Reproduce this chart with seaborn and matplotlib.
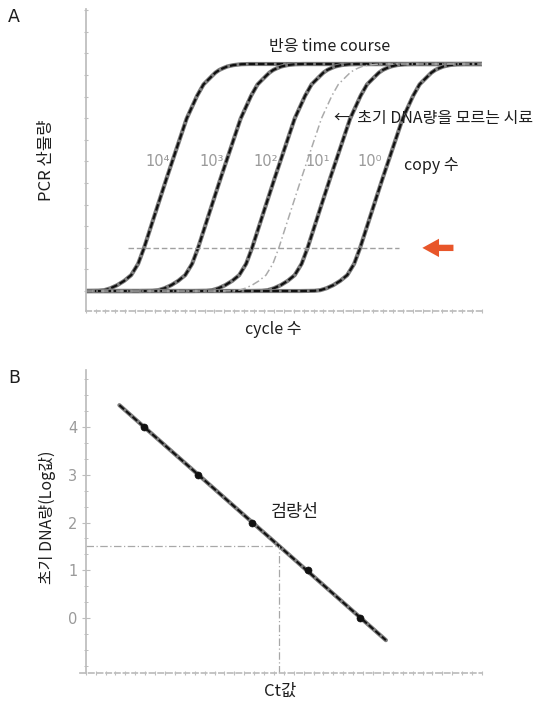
import numpy as np
import pandas as pd
import matplotlib
matplotlib.use("Agg")
import matplotlib.pyplot as plt
from matplotlib.ticker import MultipleLocator
import seaborn as sns

sns.set_theme(style="white")
plt.rcParams["font.family"] = ["Noto Sans CJK KR", "DejaVu Sans"]

# ---------------- data ----------------
ct_standards = [5.9, 11.35, 16.8, 22.4, 27.7]      # threshold cycles of standards
log_copies = [4, 3, 2, 1, 0]                        # log initial DNA amount
copy_labels = ["10⁴", "10³", "10²", "10¹", "10⁰"]
ct_unknown = 19.5
log_unknown = 1.5
threshold = 0.19
threshold_span = [4.24, 31.6]
arrow_span = [37.4, 33.7]
# amplification curve shape (offset from Ct, relative height)
profile_offset = [-6.0, -4.6, -4.0, -3.4, -2.7, -2.0, -1.3, -0.6, 0.0, 1.3, 2.3, 3.3,
                  4.3, 5.35, 6.0, 6.8, 7.2, 7.6, 8.0, 8.4, 9.0, 9.8, 10.6]
profile_height = [0.0, 0.001, 0.004, 0.012, 0.026, 0.045, 0.07, 0.12, 0.19, 0.366, 0.5,
                  0.63, 0.76, 0.86, 0.91, 0.945, 0.962, 0.974, 0.982, 0.989, 0.995,
                  0.999, 1.0]
cycle_max = 40
fit_span = [3.4, 30.3]

W, H = 547, 703
fig = plt.figure(figsize=(W / 100, H / 100), dpi=100)


def fx(x):
    return x / W


def fy(y):
    return 1 - y / H


def curve(ct):
    xs = [0] + [ct + o for o in profile_offset] + [cycle_max]
    ys = [0] + profile_height + [1.0]
    return pd.DataFrame({"cycle": xs, "amount": ys})


def line(ax, x, y, **kw):
    sns.lineplot(x=list(x), y=list(y), ax=ax, sort=False, estimator=None, **kw)
    return ax.lines[-1]


spine_col = "#bdbdbd"
txt_col = "#1e1e1e"

# ---------------- panel A ----------------
axA = fig.add_axes([fx(85.6), 1 - 311 / H, (482 - 85.6) / W, (311 - 8.7) / H])
axA.set_xlim(0, cycle_max)
axA.set_ylim(-0.088, 1.2436)

for ct in ct_standards:
    d = curve(ct)
    line(axA, d["cycle"], d["amount"], color="#7d7d7d", lw=3.0)
    ln = line(axA, d["cycle"], d["amount"], color="#111111", lw=1.6)
    ln.set_dashes((3, 1.2))

du = curve(ct_unknown)
ln = line(axA, du["cycle"], du["amount"], color="#ababab", lw=1.1)
ln.set_dashes((5, 2, 1, 2))

ln = line(axA, threshold_span, [threshold, threshold], color="#a0a0a0", lw=1.0)
ln.set_dashes((4, 2))

axA.annotate("", xy=(arrow_span[1], threshold), xytext=(arrow_span[0], threshold),
             arrowprops=dict(arrowstyle="simple,head_length=1.0,head_width=1.1,tail_width=0.38",
                             color="#e8562a", lw=0))

for s in ["top", "right"]:
    axA.spines[s].set_visible(False)
axA.spines["left"].set_color(spine_col)
axA.spines["bottom"].set_color(spine_col)
axA.spines["bottom"].set_linestyle((0, (3, 2)))
axA.set_yticks(np.arange(0, 1.24, 0.0952))
axA.set_xticks(np.arange(0, cycle_max + 0.1, 1))
axA.tick_params(axis="both", length=3, width=0.8, color=spine_col, direction="inout",
                labelleft=False, labelbottom=False, left=True, bottom=True)
axA.set_xlabel("")
axA.set_ylabel("")

label_x = [158, 212, 266, 318, 370]
for lx, lab in zip(label_x, copy_labels):
    fig.text(fx(lx), fy(162), lab, color="#9a9a9a", fontsize=10.5, ha="center", va="center",
             family=["DejaVu Sans"])
fig.text(fx(404), fy(166), "copy 수", fontsize=11.5, ha="left", va="center", color=txt_col)
fig.text(fx(330), fy(47), "반응 time course", fontsize=11.5, ha="center", va="center",
         color=txt_col)
fig.text(fx(334), fy(118), "←  초기 DNA량을 모르는 시료", fontsize=11.5, ha="left",
         va="center", color=txt_col)
fig.text(fx(273), fy(329), "cycle 수", fontsize=11.5, ha="center", va="center", color=txt_col)
fig.text(fx(47), fy(160), "PCR 산물량", fontsize=12, ha="center", va="center", rotation=90,
         color=txt_col)
fig.text(fx(14), fy(17), "A", fontsize=12.5, ha="center", va="center", color=txt_col,
         family=["DejaVu Sans"])

# ---------------- panel B ----------------
axB = fig.add_axes([fx(80), 1 - 673 / H, (482 - 80) / W, (673 - 370) / H])
axB.set_xlim(-(85.7 - 80) / 9.9, cycle_max)
axB.set_ylim(-1.152, 5.194)
axB.spines["left"].set_position(("data", 0))

coef = np.polyfit(ct_standards, log_copies, 1)
fit_x = np.array(fit_span)
fit_y = np.polyval(coef, fit_x)
line(axB, fit_x, fit_y, color="#7d7d7d", lw=3.0)
ln = line(axB, fit_x, fit_y, color="#111111", lw=1.5)
ln.set_dashes((3, 1.2))
sns.scatterplot(x=ct_standards, y=log_copies, ax=axB, color="#111", s=26, edgecolor="#111",
                zorder=5)

ln = line(axB, [0, ct_unknown], [log_unknown, log_unknown], color="#a8a8a8", lw=0.9)
ln.set_dashes((6, 2, 1, 2))
ln = line(axB, [ct_unknown, ct_unknown], [-1.152, log_unknown], color="#a8a8a8", lw=0.9)
ln.set_dashes((6, 2, 1, 2))

for s in ["top", "right"]:
    axB.spines[s].set_visible(False)
axB.spines["left"].set_color(spine_col)
axB.spines["bottom"].set_color(spine_col)
axB.spines["bottom"].set_linestyle((0, (3, 2)))
axB.set_yticks(log_copies)
axB.set_yticklabels([str(v) for v in log_copies])
axB.yaxis.set_minor_locator(MultipleLocator(1 / 3))
axB.set_xticks(np.arange(0, cycle_max + 0.1, 1))
axB.tick_params(axis="y", which="major", length=6, width=0.8, color=spine_col,
                direction="inout", labelcolor="#9a9a9a", labelsize=10.5, pad=3, left=True)
axB.tick_params(axis="y", which="minor", length=3, width=0.7, color=spine_col,
                direction="inout", left=True)
axB.tick_params(axis="x", length=3, width=0.8, color=spine_col, direction="inout",
                labelbottom=False, bottom=True)
for t in axB.get_yticklabels():
    t.set_family(["DejaVu Sans"])
axB.set_xlabel("")
axB.set_ylabel("")

fig.text(fx(295), fy(512), "검량선", fontsize=12.5, ha="center", va="center", color=txt_col)
fig.text(fx(280), fy(691), "Ct값", fontsize=12, ha="center", va="center", color=txt_col)
fig.text(fx(47), fy(517), "초기 DNA량(Log값)", fontsize=11.5, ha="center", va="center",
         rotation=90, color=txt_col)
fig.text(fx(14), fy(378), "B", fontsize=12.5, ha="center", va="center", color=txt_col,
         family=["DejaVu Sans"])

fig.savefig("out.png", dpi=100)
